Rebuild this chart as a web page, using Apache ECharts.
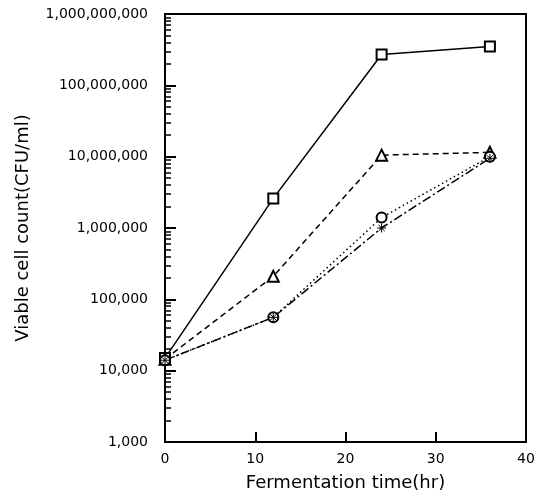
<!DOCTYPE html>
<html>
<head>
<meta charset="utf-8">
<script src="https://cdn.jsdelivr.net/npm/echarts@6/dist/echarts.min.js"></script>
<style>
  html, body { margin: 0; padding: 0; background: #fff; }
  #main { width: 539px; height: 499px; }
</style>
</head>
<body>
<div id="main"></div>
<script>
var chartDom = document.getElementById("main");
var myChart = echarts.init(chartDom);
var option;

// fermentation time (hr)
const hours = [0, 12, 24, 36];
// viable cell count (CFU/ml)
const squareCounts = [15000, 2600000, 270000000, 350000000];
const triangleCounts = [14500, 210000, 10500000, 11500000];
const circleCounts = [14000, 56000, 1400000, 10000000];
const starCounts = [14000, 56000, 1000000, 9500000];

const xTickValues = [0, 10, 20, 30, 40];

// log10 positions of 2..9 in each decade, for the minor tick marks
const minorTicks = [];
for (let d = 3; d < 9; d++) {
  for (let k = 2; k <= 9; k++) {
    minorTicks.push(d + Math.log10(k));
  }
}

const font = "DejaVu Sans";
const asterisk = "path://M5,0L5,10M0,5L10,5M1.5,1.5L8.5,8.5M8.5,1.5L1.5,8.5";

function pairs(values) {
  return hours.map((h, i) => [h, values[i]]);
}

function makeSeries(values, symbol, dash, size) {
  return {
    type: "line",
    data: pairs(values),
    xAxisIndex: 0,
    yAxisIndex: 0,
    symbol: symbol,
    symbolSize: size,
    showAllSymbol: true,
    lineStyle: { color: "#000", width: 1.5, type: dash },
    itemStyle: { color: "#000", borderColor: "#000", borderWidth: 1 },
    emphasis: { disabled: true },
    z: 3,
  };
}

const grid = { left: 165, right: 13, top: 14, bottom: 57 };

option = {
  animation: false,
  backgroundColor: "#fff",
  grid: Object.assign({ show: true, borderColor: "#000", borderWidth: 2 }, grid),
  xAxis: {
    type: "value",
    min: 0,
    max: 40,
    interval: 10,
    name: "Fermentation time(hr)",
    nameLocation: "middle",
    nameGap: 32,
    nameTextStyle: { fontFamily: font, fontSize: 18, color: "#000" },
    axisLine: { lineStyle: { color: "#000", width: 2 } },
    axisTick: { inside: true, length: 10, lineStyle: { color: "#000", width: 2 } },
    axisLabel: {
      margin: 10,
      fontFamily: font,
      fontSize: 14,
      color: "#000",
      customValues: xTickValues,
    },
    splitLine: { show: false },
  },
  yAxis: [
    {
      type: "log",
      logBase: 10,
      min: 1000,
      max: 1e9,
      name: "Viable cell count(CFU/ml)",
      nameLocation: "middle",
      nameGap: 133,
      nameTextStyle: { fontFamily: font, fontSize: 18, color: "#000" },
      axisLine: { lineStyle: { color: "#000", width: 2 } },
      axisTick: { inside: true, length: 11, lineStyle: { color: "#000", width: 2 } },
      axisLabel: {
        margin: 17,
        fontFamily: font,
        fontSize: 14,
        color: "#000",
        formatter: (v) => Math.round(v).toLocaleString("en-US"),
      },
      splitLine: { show: false },
    },
    {
      // minor tick marks only
      type: "value",
      min: 3,
      max: 9,
      position: "left",
      axisLine: { show: false },
      axisTick: {
        inside: true,
        length: 6,
        customValues: minorTicks,
        lineStyle: { color: "#000", width: 1.5 },
      },
      axisLabel: { show: false },
      splitLine: { show: false },
    },
  ],
  series: [
    makeSeries(squareCounts, "emptyRect", "solid", 10),
    makeSeries(triangleCounts, "emptyTriangle", [6, 4], 11),
    makeSeries(circleCounts, "emptyCircle", [1.5, 3], 10),
    makeSeries(starCounts, asterisk, [9, 3, 2, 3], 9),
  ],
};

option && myChart.setOption(option);
</script>
</body>
</html>
